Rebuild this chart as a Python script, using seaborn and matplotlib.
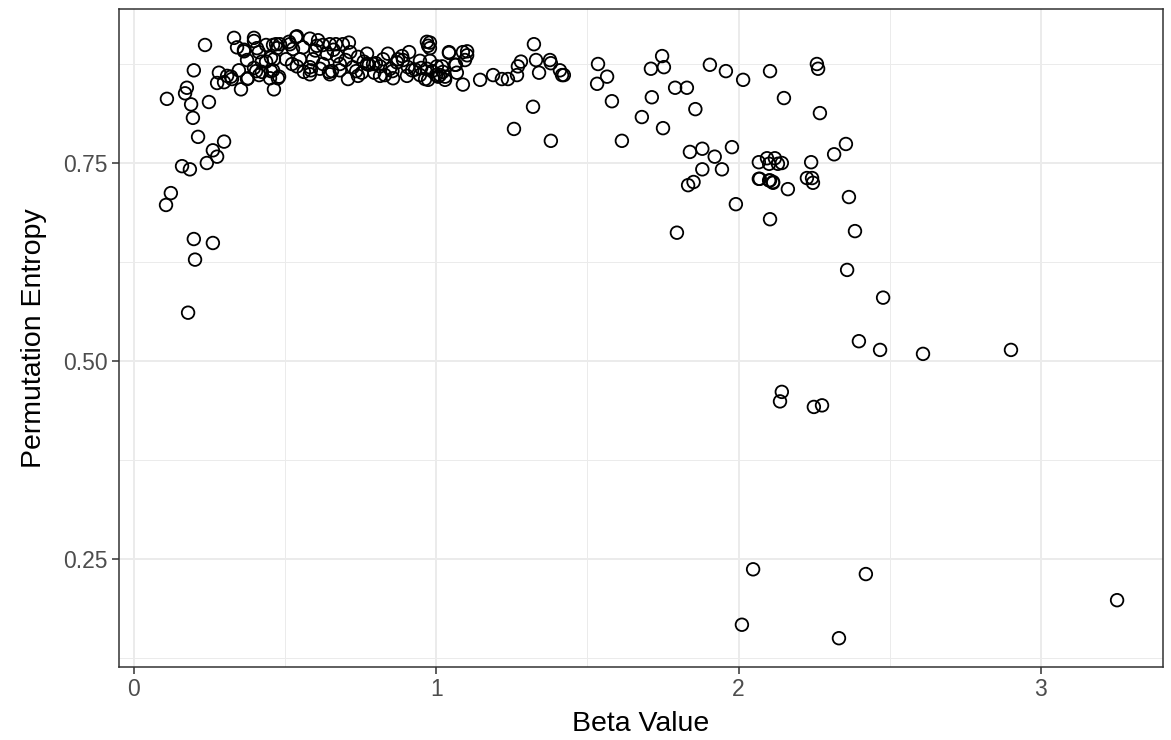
import numpy as np
import pandas as pd
import matplotlib.pyplot as plt
import seaborn as sns
from matplotlib.ticker import MultipleLocator

# values (beta, permutation entropy)
beta_left = [0.106, 0.122, 0.109, 0.159, 0.169, 0.175, 0.185, 0.179, 0.189, 0.195,
             0.198, 0.198, 0.202, 0.212, 0.235, 0.241, 0.248, 0.261, 0.261, 0.275,
             0.275, 0.281, 0.298, 0.298, 0.308, 0.321, 0.331, 0.341, 0.354, 0.347,
             0.364, 0.374, 0.377, 0.397, 0.397, 0.407, 0.414, 0.423, 0.437, 0.450,
             0.453, 0.460, 0.463, 0.473, 0.476, 0.324, 0.374, 0.364, 0.397, 0.404,
             0.423, 0.413, 0.437, 0.463, 0.470, 0.503, 0.513, 0.536, 0.523, 0.480,
             0.453]
pe_left = [0.697, 0.712, 0.831, 0.746, 0.838, 0.845, 0.742, 0.561, 0.824, 0.807,
           0.867, 0.654, 0.628, 0.783, 0.899, 0.750, 0.827, 0.766, 0.649, 0.758,
           0.851, 0.864, 0.777, 0.852, 0.860, 0.859, 0.908, 0.896, 0.843, 0.867,
           0.893, 0.880, 0.857, 0.908, 0.870, 0.895, 0.861, 0.878, 0.899, 0.857,
           0.883, 0.867, 0.843, 0.895, 0.857, 0.856, 0.856, 0.891, 0.904, 0.866,
           0.865, 0.890, 0.878, 0.881, 0.900, 0.881, 0.903, 0.909, 0.875, 0.859,
           0.866]

beta_mid = [0.539, 0.582, 0.609, 0.648, 0.691, 0.711, 0.771, 0.840, 0.887, 0.910,
            0.969, 0.973, 1.042, 1.088, 1.062, 0.582, 0.648, 0.708, 0.741, 0.814,
            0.857, 0.903, 0.963, 1.006, 1.029, 0.946, 0.969, 1.002, 1.022, 0.824,
            0.873, 0.906, 0.791, 0.741, 0.715, 0.672, 0.638, 0.605, 0.559, 0.526,
            0.549, 0.592, 0.625, 0.681, 0.724, 0.771, 0.814, 0.847, 0.539, 0.582,
            0.615, 0.562, 0.585, 0.645, 0.681, 0.754, 0.777, 0.830, 0.920, 0.946,
            0.973, 0.999, 0.483, 0.516, 0.625, 0.668, 0.460, 0.979, 0.979, 1.042,
            1.102, 1.102, 1.095, 1.065, 1.019, 0.979, 0.986, 1.012, 1.029, 1.068,
            1.088, 0.600, 0.660, 0.700, 0.760, 0.800, 0.870, 0.930, 0.655, 0.735,
            0.795, 0.855, 0.890, 0.950]
pe_mid = [0.910, 0.907, 0.905, 0.900, 0.900, 0.902, 0.888, 0.888, 0.885, 0.890,
          0.903, 0.898, 0.890, 0.890, 0.874, 0.862, 0.862, 0.856, 0.860, 0.860,
          0.857, 0.860, 0.856, 0.859, 0.859, 0.879, 0.869, 0.872, 0.865, 0.881,
          0.881, 0.871, 0.875, 0.884, 0.890, 0.885, 0.888, 0.898, 0.896, 0.894,
          0.881, 0.881, 0.875, 0.875, 0.871, 0.875, 0.872, 0.869, 0.872, 0.871,
          0.869, 0.865, 0.867, 0.865, 0.867, 0.864, 0.874, 0.861, 0.867, 0.861,
          0.855, 0.861, 0.900, 0.900, 0.899, 0.900, 0.899, 0.902, 0.895, 0.889,
          0.891, 0.886, 0.880, 0.874, 0.872, 0.879, 0.866, 0.861, 0.855, 0.864,
          0.849, 0.892, 0.893, 0.880, 0.878, 0.876, 0.877, 0.868, 0.866, 0.866,
          0.864, 0.866, 0.880, 0.870]

beta_right = [1.145, 1.188, 1.217, 1.237, 1.267, 1.270, 1.280, 1.257, 1.323, 1.330,
              1.340, 1.376, 1.379, 1.409, 1.416, 1.422, 1.320, 1.379, 1.535, 1.532,
              1.565, 1.581, 1.614, 1.680, 1.710, 1.713, 1.747, 1.750, 1.753, 1.790,
              1.796, 1.829, 1.833, 1.839, 1.851, 1.857, 1.880, 1.880, 1.905, 1.921,
              1.945, 1.958, 1.978, 1.991, 2.015, 2.011, 2.048, 2.067, 2.067, 2.094,
              2.101, 2.101, 2.104, 2.104, 2.114, 2.120, 2.130, 2.143, 2.137, 2.143,
              2.150, 2.163, 2.226, 2.240, 2.243, 2.246, 2.249, 2.259, 2.263, 2.269,
              2.276, 2.316, 2.332, 2.355, 2.359, 2.365, 2.385, 2.398, 2.421, 2.468,
              2.478, 2.610, 2.901, 3.252, 2.070, 2.104, 2.114]
pe_right = [0.855, 0.861, 0.856, 0.856, 0.861, 0.872, 0.878, 0.793, 0.900, 0.880,
            0.864, 0.880, 0.876, 0.867, 0.861, 0.861, 0.821, 0.778, 0.875, 0.850,
            0.859, 0.828, 0.778, 0.808, 0.869, 0.833, 0.885, 0.794, 0.871, 0.845,
            0.662, 0.845, 0.722, 0.764, 0.726, 0.818, 0.768, 0.742, 0.874, 0.758,
            0.742, 0.866, 0.770, 0.698, 0.855, 0.167, 0.237, 0.730, 0.751, 0.756,
            0.749, 0.728, 0.866, 0.679, 0.726, 0.756, 0.749, 0.750, 0.449, 0.461,
            0.832, 0.717, 0.731, 0.751, 0.731, 0.725, 0.442, 0.875, 0.869, 0.813,
            0.444, 0.761, 0.150, 0.774, 0.615, 0.707, 0.664, 0.525, 0.231, 0.514,
            0.580, 0.509, 0.514, 0.198, 0.730, 0.728, 0.725]

df = pd.DataFrame({
    "beta": beta_left + beta_mid + beta_right,
    "pe": pe_left + pe_mid + pe_right,
})

sns.set_theme(style="white")
plt.rcParams['font.family'] = ['Liberation Sans', 'DejaVu Sans']

fig, ax = plt.subplots(figsize=(11.71, 7.40), dpi=100)
fig.subplots_adjust(left=0.1016, right=0.9932, top=0.9878, bottom=0.0986)

sns.scatterplot(data=df, x="beta", y="pe", ax=ax, s=82,
                facecolor="none", edgecolor="black", linewidth=1.3, zorder=3)

ax.set_xlim(-0.0496, 3.404)
ax.set_ylim(0.1136, 0.9444)
ax.xaxis.set_major_locator(MultipleLocator(1))
ax.xaxis.set_minor_locator(MultipleLocator(0.5))
ax.yaxis.set_major_locator(MultipleLocator(0.25))
ax.yaxis.set_minor_locator(MultipleLocator(0.125))
ax.set_yticks([0.25, 0.5, 0.75])
ax.set_yticklabels(["0.25", "0.50", "0.75"])

ax.grid(which="major", color="#EBEBEB", linewidth=1.4, zorder=0)
ax.grid(which="minor", color="#EBEBEB", linewidth=0.7, zorder=0)
ax.set_axisbelow(True)
for sp in ax.spines.values():
    sp.set_color("#333333")
    sp.set_linewidth(1.1)

ax.tick_params(which="major", length=5, width=1.1, color="#333333",
               labelsize=16.5, labelcolor="#4D4D4D", direction="out",
               bottom=True, left=True, pad=3)
ax.tick_params(which="minor", length=0)

ax.set_xlabel("Beta Value", fontsize=20.5, color="black", labelpad=7)
ax.set_ylabel("Permutation Entropy", fontsize=20.5, color="black", labelpad=12)

plt.savefig("out.png")
plt.close()
